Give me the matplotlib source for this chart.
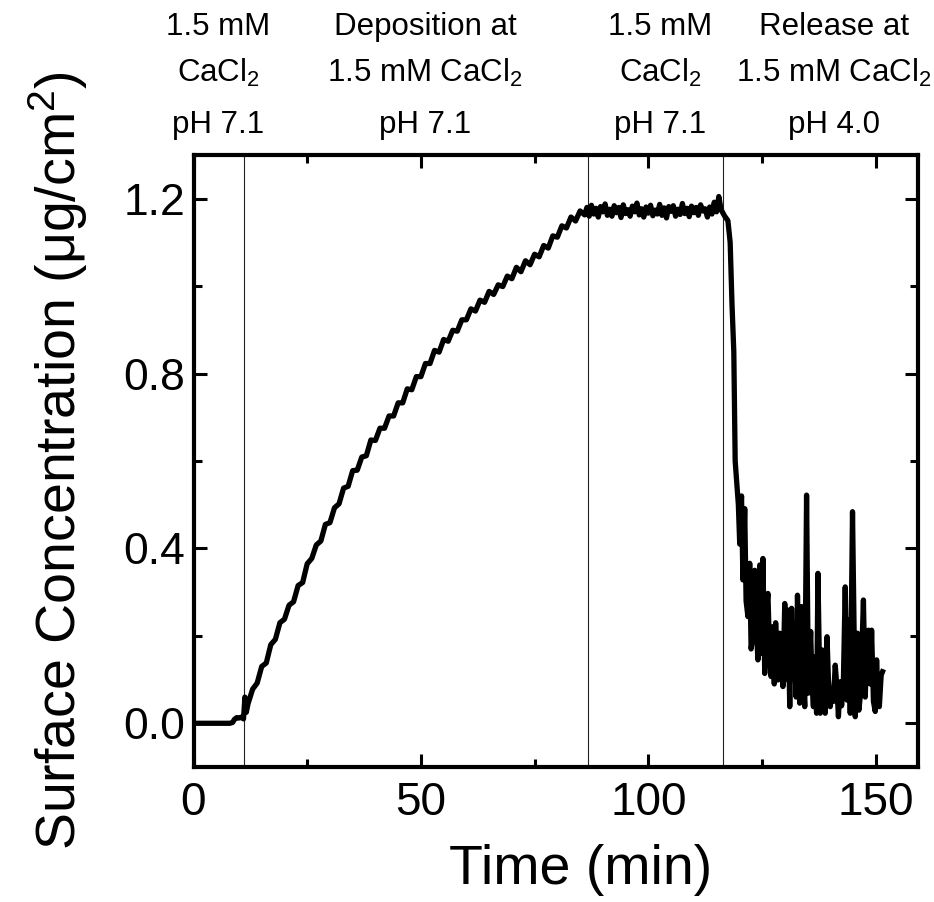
import matplotlib
matplotlib.use("Agg")
import matplotlib.pyplot as plt
from matplotlib.ticker import MultipleLocator

plt.rcParams['font.family'] = ['Liberation Sans', 'DejaVu Sans']
plt.rcParams['mathtext.fontset'] = 'custom'
plt.rcParams['mathtext.rm'] = 'Liberation Sans'
plt.rcParams['mathtext.it'] = 'Liberation Sans:italic'
plt.rcParams['mathtext.bf'] = 'Liberation Sans:bold'

# baseline in 1.5 mM CaCl2
base_t = [0, 2, 4, 6, 8, 8.6, 9.0, 9.5, 10.0, 10.5, 11.0]
base_c = [0, 0, 0, 0, 0, 0.002, 0.009, 0.013, 0.012, 0.014, 0.010]

# deposition at pH 7.1
dep_t = [11.3, 11.6, 12, 13, 14, 15, 16, 17, 18, 19, 20, 21, 22, 23, 24, 25, 26, 27, 28, 29,
         30, 31, 32, 33, 34, 35, 36, 37, 38, 39, 40, 41, 42, 43, 44, 45, 46, 47, 48, 49,
         50, 51, 52, 53, 54, 55, 56, 57, 58, 59, 60, 61, 62, 63, 64, 65, 66, 67, 68, 69,
         70, 71, 72, 73, 74, 75, 76, 77, 78, 79, 80, 81, 82, 83, 84, 85, 86]
dep_c = [0.060, 0.025, 0.045, 0.078, 0.092, 0.130, 0.138, 0.180, 0.192, 0.230, 0.238, 0.270,
         0.278, 0.315, 0.322, 0.365, 0.377, 0.408, 0.417, 0.455, 0.459, 0.493, 0.502, 0.538,
         0.542, 0.578, 0.579, 0.609, 0.612, 0.648, 0.647, 0.675, 0.675, 0.703, 0.703, 0.733,
         0.733, 0.765, 0.763, 0.793, 0.793, 0.823, 0.823, 0.853, 0.849, 0.878, 0.874, 0.899,
         0.897, 0.923, 0.923, 0.948, 0.943, 0.968, 0.963, 0.988, 0.981, 1.003, 0.999, 1.023,
         1.017, 1.043, 1.033, 1.058, 1.049, 1.073, 1.067, 1.093, 1.087, 1.115, 1.112, 1.138,
         1.133, 1.158, 1.149, 1.172, 1.163]

# rinse with 1.5 mM CaCl2, pH 7.1
rinse_t = [86.5 + 0.5 * i for i in range(60)]
rinse_c = [1.180, 1.160, 1.185, 1.165, 1.178, 1.158, 1.182, 1.170, 1.188, 1.162,
           1.176, 1.160, 1.184, 1.168, 1.180, 1.157, 1.186, 1.166, 1.175, 1.160,
           1.183, 1.170, 1.190, 1.163, 1.177, 1.158, 1.181, 1.167, 1.185, 1.161,
           1.174, 1.165, 1.187, 1.162, 1.179, 1.156, 1.182, 1.171, 1.184, 1.160,
           1.176, 1.164, 1.189, 1.166, 1.178, 1.159, 1.183, 1.168, 1.180, 1.162,
           1.186, 1.172, 1.177, 1.158, 1.181, 1.165, 1.192, 1.170, 1.205, 1.175]

# release at pH 4.0
rel_t = [116.8, 117.5, 118.0, 118.4, 118.8, 119.1, 119.8, 120.1, 120.5, 120.8, 121.2, 121.5,
         121.9, 122.3, 122.6, 123.0, 123.4, 123.7, 124.1, 124.5, 124.8, 125.2, 125.6, 125.9,
         126.3, 126.7, 127.0, 127.4, 127.7, 128.0, 128.5, 128.9, 129.2, 129.6, 130.0, 130.4,
         130.7, 131.1, 131.5, 131.8, 132.2, 132.5, 132.8, 133.3, 133.7, 134.0, 134.4, 134.8,
         135.2, 135.7, 136.0, 136.3, 136.6, 137.0, 137.3, 137.8, 138.2, 138.5, 138.9, 139.3,
         139.6, 140.0, 140.4, 140.7, 141.1, 141.5, 141.8, 142.2, 142.5, 142.9, 143.3, 143.7,
         144.1, 144.4, 144.9, 145.5, 145.8, 146.0, 146.3, 146.6, 147.0, 147.3, 147.7, 148.1,
         148.4, 148.8, 149.1, 149.5, 149.9, 150.2, 150.5, 150.8, 151.2, 151.5]
rel_c = [1.160, 1.150, 1.100, 0.960, 0.850, 0.600, 0.500, 0.410, 0.520, 0.328, 0.491, 0.280,
         0.244, 0.366, 0.170, 0.198, 0.350, 0.230, 0.145, 0.362, 0.160, 0.377, 0.114, 0.250,
         0.297, 0.150, 0.107, 0.221, 0.090, 0.230, 0.099, 0.206, 0.150, 0.084, 0.274, 0.100,
         0.259, 0.038, 0.263, 0.110, 0.145, 0.060, 0.293, 0.046, 0.267, 0.120, 0.038, 0.522,
         0.069, 0.210, 0.090, 0.038, 0.152, 0.023, 0.343, 0.023, 0.168, 0.070, 0.023, 0.198,
         0.100, 0.038, 0.076, 0.050, 0.133, 0.080, 0.015, 0.095, 0.040, 0.099, 0.312, 0.053,
         0.236, 0.023, 0.484, 0.015, 0.120, 0.206, 0.030, 0.061, 0.180, 0.282, 0.060, 0.190,
         0.213, 0.090, 0.213, 0.050, 0.027, 0.145, 0.060, 0.038, 0.110, 0.118]

time_min = base_t + dep_t + rinse_t + rel_t
conc = base_c + dep_c + rinse_c + rel_c

switch_times = [11.1, 86.7, 116.5]

stage_x = [218, 425, 660, 834]
stage_lines = [
    ["1.5 mM", "CaCl$_2$", "pH 7.1"],
    ["Deposition at", "1.5 mM CaCl$_2$", "pH 7.1"],
    ["1.5 mM", "CaCl$_2$", "pH 7.1"],
    ["Release at", "1.5 mM CaCl$_2$", "pH 4.0"],
]

W, H = 934, 902
fig = plt.figure(figsize=(W / 100, H / 100), dpi=100)
ax = fig.add_axes([193.5 / W, 1 - 767 / H, (918 - 193.5) / W, (767 - 155) / H])

for t in switch_times:
    ax.axvline(t, color='#222222', linewidth=0.8, zorder=1)

ax.plot(time_min, conc, color='black', linewidth=3.8, solid_joinstyle='round', zorder=2)

ax.set_xlim(0, 159.3)
ax.set_ylim(-0.1, 1.3)
ax.xaxis.set_major_locator(MultipleLocator(50))
ax.xaxis.set_minor_locator(MultipleLocator(25))
ax.yaxis.set_minor_locator(MultipleLocator(0.2))
ax.set_yticks([0.0, 0.4, 0.8, 1.2])
ax.set_yticklabels(['0.0', '0.4', '0.8', '1.2'])

ax.tick_params(which='both', direction='in', top=True, right=True, width=2.2)
ax.tick_params(which='major', length=9.5)
ax.tick_params(which='minor', length=5.5)
ax.tick_params(axis='x', labelsize=33, pad=10)
ax.tick_params(axis='y', labelsize=32, pad=6)
for s in ax.spines.values():
    s.set_linewidth(3)

ax.set_xlabel('Time (min)', fontsize=40, labelpad=14)
ax.xaxis.label.set_x(0.535)
ax.set_ylabel('Surface Concentration (μg/cm$^2$)', fontsize=40, labelpad=24)

line_y = [35, 82, 133]
for x0, lines in zip(stage_x, stage_lines):
    for y0, txt in zip(line_y, lines):
        fig.text(x0 / W, 1 - y0 / H, txt, fontsize=22.5, ha='center', va='baseline')

fig.savefig('out.png', dpi=100)
